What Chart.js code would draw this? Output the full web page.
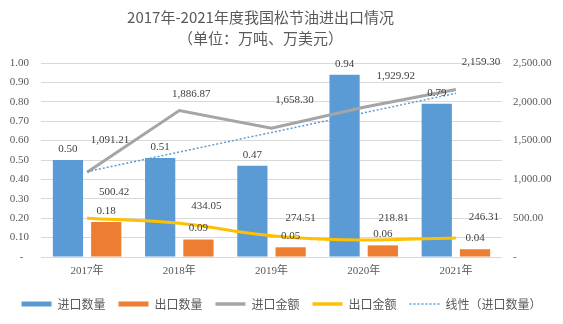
<!DOCTYPE html>
<html>
<head>
<meta charset="utf-8">
<script src="https://cdn.jsdelivr.net/npm/chart.js@4/dist/chart.umd.min.js"></script>
<style>
  html, body { margin: 0; padding: 0; background: #fff; }
  #wrap { position: relative; width: 563px; height: 324px; }
  #title {
    position: absolute; left: 0; top: 6px; width: 521px;
    text-align: center; color: #595959;
    font: 15px/21px "Noto Sans CJK SC", sans-serif;
  }
</style>
</head>
<body>
<div id="wrap">
  <canvas id="chart"></canvas>
  <div id="title">2017年-2021年度我国松节油进出口情况<br>（单位：万吨、万美元）</div>
</div>
<script>
// 数据（单位：万吨、万美元）
const years = ['2017年', '2018年', '2019年', '2020年', '2021年'];
const importQty = [0.50, 0.51, 0.47, 0.94, 0.79];
const exportQty = [0.18, 0.09, 0.05, 0.06, 0.04];
const importValue = [1091.21, 1886.87, 1658.30, 1929.92, 2159.30];
const exportValue = [500.42, 434.05, 274.51, 218.81, 246.31];

// Excel 风格配色
const COLORS = {
    blue: '#5B9BD5',
    orange: '#ED7D31',
    gray: '#A5A5A5',
    yellow: '#FFC000',
    grid: '#D9D9D9',
    text: '#595959',
    label: '#404040',
};

const SERIF = '"Liberation Serif", "Times New Roman", serif';

// 线性趋势线（进口数量的最小二乘拟合，同 Excel 趋势线）
function linearTrend(values) {
    const n = values.length;
    const xs = values.map((_, i) => i + 1);
    const mx = xs.reduce((a, b) => a + b, 0) / n;
    const my = values.reduce((a, b) => a + b, 0) / n;
    let sxy = 0, sxx = 0;
    xs.forEach((x, i) => { sxy += (x - mx) * (values[i] - my); sxx += (x - mx) ** 2; });
    const k = sxy / sxx;
    return xs.map(x => my + k * (x - mx));
}

const fmtQty = v => v.toFixed(2);
const fmtMoney = v => v.toLocaleString('en-US', { minimumFractionDigits: 2, maximumFractionDigits: 2 });

// 数据标签（offset 为相对数据点的像素偏移，可为单个或逐点）
const valueLabels = {
    id: 'valueLabels',
    afterDatasetsDraw(chart) {
        const ctx = chart.ctx;
        ctx.save();
        ctx.font = '11px ' + SERIF;
        ctx.fillStyle = COLORS.label;
        ctx.textAlign = 'center';
        ctx.textBaseline = 'middle';
        chart.data.datasets.forEach((ds, i) => {
            if (!ds.labelFmt) return;
            chart.getDatasetMeta(i).data.forEach((el, j) => {
                const off = Array.isArray(ds.labelOffset[0]) ? ds.labelOffset[j] : ds.labelOffset;
                ctx.fillText(ds.labelFmt(ds.data[j]), el.x + off[0], el.y + off[1]);
            });
        });
        ctx.restore();
    }
};

new Chart(document.getElementById('chart'), {
    type: 'bar',
    data: {
        labels: years,
        datasets: [
            {
                label: '进口数量', data: importQty, yAxisID: 'y', order: 3,
                backgroundColor: COLORS.blue, legendColor: COLORS.blue, legendWidth: 5,
                categoryPercentage: 0.83, barPercentage: 0.79,
                labelFmt: fmtQty, labelOffset: [0, -11],
            },
            {
                label: '出口数量', data: exportQty, yAxisID: 'y', order: 3,
                backgroundColor: COLORS.orange, legendColor: COLORS.orange, legendWidth: 5,
                categoryPercentage: 0.83, barPercentage: 0.79,
                labelFmt: fmtQty, labelOffset: [0, -11],
            },
            {
                type: 'line', label: '进口金额', data: importValue, yAxisID: 'y1', order: 2,
                borderColor: COLORS.gray, borderWidth: 3, pointRadius: 0, tension: 0,
                legendColor: COLORS.gray, legendWidth: 3.5,
                labelFmt: fmtMoney,
                labelOffset: [[23, -32], [12, -16], [23, -28], [32, -31], [25, -27]],
            },
            {
                type: 'line', label: '出口金额', data: exportValue, yAxisID: 'y1', order: 1,
                borderColor: COLORS.yellow, borderWidth: 3, pointRadius: 0,
                cubicInterpolationMode: 'monotone',
                legendColor: COLORS.yellow, legendWidth: 3.5,
                labelFmt: fmtMoney,
                labelOffset: [[27, -26], [27, -17], [29, -18], [30, -22], [28, -21]],
            },
            {
                type: 'line', label: '线性（进口数量）', data: linearTrend(importQty), yAxisID: 'y', order: 0,
                borderColor: COLORS.blue, borderWidth: 1.5, borderDash: [2, 2], pointRadius: 0,
                legendColor: COLORS.blue, legendWidth: 1.5,
            },
        ]
    },
    options: {
        responsive: true,
        maintainAspectRatio: false,
        animation: false,
        layout: { padding: { top: 63, left: 0, right: 0, bottom: 4 } },
        plugins: {
            title: { display: false },
            tooltip: { enabled: false },
            legend: {
                position: 'bottom',
                labels: {
                    usePointStyle: true,
                    pointStyleWidth: 30,
                    padding: 13,
                    color: COLORS.text,
                    font: { family: '"Noto Sans CJK SC", sans-serif', size: 12 },
                    generateLabels: chart => chart.data.datasets.map((ds, i) => ({
                        text: ds.label,
                        fillStyle: ds.legendColor,
                        strokeStyle: ds.legendColor,
                        lineWidth: ds.legendWidth,
                        lineDash: ds.borderDash || [],
                        lineCap: 'butt',
                        pointStyle: 'line',
                        fontColor: COLORS.text,
                        hidden: !chart.isDatasetVisible(i),
                        datasetIndex: i,
                    })),
                }
            }
        },
        scales: {
            x: {
                grid: { display: false, drawTicks: false },
                border: { display: false },
                ticks: { color: COLORS.text, padding: 8, font: { family: SERIF + ', "Noto Sans CJK SC"', size: 11 } },
                afterFit: s => { s.height = 28; },
            },
            y: {
                position: 'left',
                min: 0, max: 1,
                ticks: {
                    stepSize: 0.1, padding: 12, color: COLORS.text,
                    font: { family: SERIF, size: 11 },
                    callback: v => v === 0 ? '-  ' : Number(v).toFixed(2),
                },
                grid: { color: COLORS.grid, drawTicks: false },
                border: { display: false },
                afterFit: s => { s.width = 41; },
            },
            y1: {
                position: 'right',
                min: 0, max: 2500,
                ticks: {
                    stepSize: 500, padding: 11, color: COLORS.text,
                    font: { family: SERIF, size: 11 },
                    callback: v => v === 0 ? '-' : fmtMoney(v),
                },
                grid: { display: false, drawTicks: false },
                border: { display: false },
                afterFit: s => { s.width = 61; },
            }
        }
    },
    plugins: [valueLabels]
});
</script>
</body>
</html>
